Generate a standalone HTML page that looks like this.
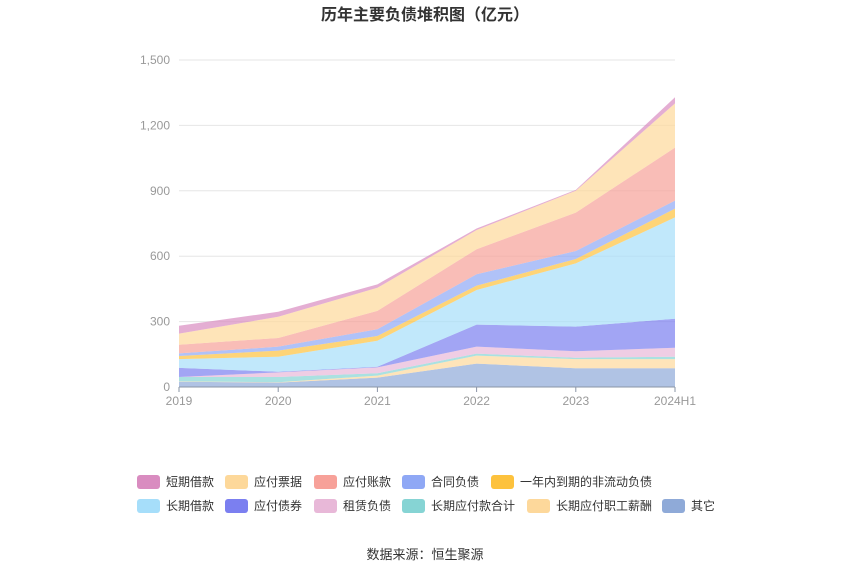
<!DOCTYPE html>
<html><head><meta charset="utf-8"><style>
body{margin:0;background:#fff;font-family:"Liberation Sans","Noto Sans CJK SC",sans-serif;}
svg text{font-family:"Liberation Sans","Noto Sans CJK SC",sans-serif;}
</style></head><body>
<svg id="c" width="850" height="575">
<text x="425" y="20" text-anchor="middle" font-size="16" font-weight="bold" fill="#333">历年主要负债堆积图（亿元）</text>
<g id="grid"></g><g id="areas"></g><g id="axes"></g><g id="legend"></g>
<text x="425" y="559" text-anchor="middle" font-size="13" fill="#333">数据来源：恒生聚源</text>
</svg>
<script>
const categories=["2019","2020","2021","2022","2023","2024H1"];
const yTicks=[0,300,600,900,1200,1500];
const seriesNames=["其它","长期应付职工薪酬","长期应付款合计","租赁负债","应付债券","长期借款","一年内到期的非流动负债","合同负债","应付账款","应付票据","短期借款"];
const s_other=[24,20,43,107,86,86];
const s_salary=[2,2,9,37,42,42];
const s_ltpay=[20,24,11,9,6,11];
const s_lease=[0,21,27,32,30,41];
const s_bonds=[42,3,3,101,113,133];
const s_ltloan=[40,69,119,159,290,465];
const s_current=[14,28,22,20,20,40];
const s_contract=[12,18,31,52,37,37];
const s_payable=[40,40,84,115,176,243];
const s_notes=[51,97,106,88,100,203];
const s_short=[36,23,16,7,4,28];
const seriesValues=[s_other,s_salary,s_ltpay,s_lease,s_bonds,s_ltloan,s_current,s_contract,s_payable,s_notes,s_short];
const colors=["#8faad8","#fdd89b","#86d4d4","#e8b8d8","#7b7ff0","#a6defa","#fdc23d","#8fa8f5","#f7a199","#fdd89a","#d98cc0"];
const NS="http://www.w3.org/2000/svg";
const X0=179,X1=675,Y0=387,Y1=60,YMAX=1500;
const xs=i=>X0+(X1-X0)*i/(categories.length-1);
const ys=v=>Y0-(Y0-Y1)*v/YMAX;
function mk(t,a,p){const e=document.createElementNS(NS,t);for(const k in a)e.setAttribute(k,a[k]);p.appendChild(e);return e;}
const grid=document.getElementById('grid'),axes=document.getElementById('axes'),areas=document.getElementById('areas'),leg=document.getElementById('legend');
yTicks.forEach(v=>{
  if(v>0){const l=mk('line',{x1:X0,x2:X1,y1:ys(v),y2:ys(v),stroke:'#e6e6e6'},grid);
  
  }
  const t=mk('text',{x:170,y:ys(v)+4,'text-anchor':'end','font-size':12,fill:'#999'},axes);t.textContent=v.toLocaleString('en-US');
  
  
});
const ax=mk('line',{x1:X0,x2:X1,y1:Y0,y2:Y0,stroke:'#8a94a6'},axes);


categories.forEach((c,i)=>{
  mk('line',{x1:xs(i),x2:xs(i),y1:Y0,y2:Y0+5,stroke:'#8a94a6'},axes);
  const t=mk('text',{x:xs(i),y:405,'text-anchor':'middle','font-size':12,fill:'#999'},axes);t.textContent=c;
  
  
});
let base=categories.map(()=>0);
seriesValues.forEach((vals,k)=>{
  const top=base.map((b,i)=>b+vals[i]);
  let d='M'+top.map((v,i)=>xs(i)+','+ys(v)).join('L');
  for(let i=categories.length-1;i>=0;i--)d+='L'+xs(i)+','+ys(base[i]);
  const p=mk('path',{d:d+'Z',fill:colors[k],'fill-opacity':0.7,stroke:'none'},areas);
  
  
  base=top;
});
const legendOrder=[10,9,8,7,6,5,4,3,2,1,0];
const lx=[137,225,314,402,491,137,225,314,402,527,662];
legendOrder.forEach((k,j)=>{
  const y=j<5?482:506;
  const g=mk('g',{},leg);
  
  
  mk('rect',{x:lx[j],y:y-7,width:23,height:14,rx:3,fill:colors[k]},g);
  const t=mk('text',{x:lx[j]+29,y:y+4,'font-size':12,fill:'#333'},g);t.textContent=seriesNames[k];
});
</script>
</body></html>
